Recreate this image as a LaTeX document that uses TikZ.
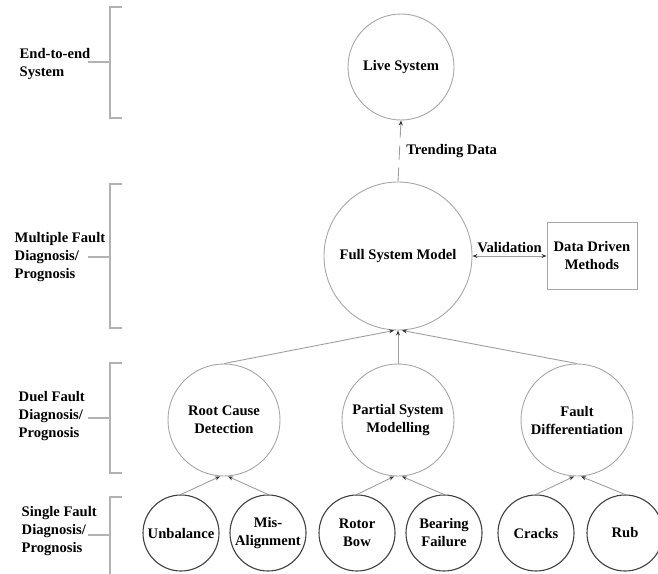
\documentclass[tikz,border=0pt]{standalone}
\usepackage{fontspec}
\setmainfont{Liberation Serif}
\usetikzlibrary{arrows.meta}
\begin{document}
\begin{tikzpicture}[x=1pt, y=-1pt, thick,
    font=\fontsize{14.6}{18}\selectfont\bfseries,
    main/.style = {draw=gray!70, circle, line width=0.9pt, inner sep=0pt, align=center},
    leaf/.style = {draw=black!75, circle, line width=1.1pt, inner sep=0pt, minimum size=76pt, align=center},
    conn/.style = {draw=gray!75, line width=0.9pt, -{Stealth[length=5pt, width=4pt, black!80]}},
    brace/.style = {draw=gray!60, line width=1.1pt},
    level/.style = {anchor=west, align=left}]
        \useasboundingbox (0,0) rectangle (658,573);

        % Nodes
        \node[main, minimum size=106pt] (live)    at (401,67)  {Live System};
        \node[main, minimum size=148pt] (full)    at (398,256) {Full System Model};
        \node[draw=gray!70, line width=0.9pt, minimum width=90pt, minimum height=67pt, align=center]
                                        (data)    at (592,256) {Data Driven\\Methods};
        \node[main, minimum size=112pt] (root)    at (224,420) {Root Cause\\Detection};
        \node[main, minimum size=112pt] (partial) at (398,420) {Partial System\\Modelling};
        \node[main, minimum size=112pt] (fault)   at (577,420) {Fault\\Differentiation};
        \node[leaf] (unb)     at (181,533) {Unbalance};
        \node[leaf] (mis)     at (268,533) {Mis-\\Alignment};
        \node[leaf] (rotor)   at (357,533) {Rotor\\Bow};
        \node[leaf] (bearing) at (444,533) {Bearing\\Failure};
        \node[leaf] (cracks)  at (536,533) {Cracks};
        \node[leaf] (rub)     at (625,533) {Rub};

        % Levels
        \node[level] (l1) at (16,64)  {End-to-end\\System};
        \node[level] (l2) at (11,257) {Multiple Fault\\Diagnosis/\\Prognosis};
        \node[level] (l3) at (15,416) {Duel Fault\\Diagnosis/\\Prognosis};
        \node[level] (l4) at (18,531) {Single Fault\\Diagnosis/\\Prognosis};
        \draw[brace] (122,7) -- (110,7) -- (110,118) -- (122,118) (110,62) -- (88,62);
        \draw[brace] (122,184) -- (110,184) -- (110,328) -- (122,328) (110,257) -- (88,257);
        \draw[brace] (122,363) -- (110,363) -- (110,473) -- (122,473) (110,418) -- (88,418);
        \draw[brace] (122,497) -- (110,497) -- (110,575) (110,535) -- (88,535);

        % Connections
        \draw[conn] (unb.north)     -- ([xshift=-4pt]root.south);
        \draw[conn] (mis.north)     -- ([xshift=4pt]root.south);
        \draw[conn] (rotor.north)   -- ([xshift=-4pt]partial.south);
        \draw[conn] (bearing.north) -- ([xshift=4pt]partial.south);
        \draw[conn] (cracks.north)  -- ([xshift=-3pt]fault.south);
        \draw[conn] (rub.north)     -- ([xshift=4pt]fault.south);
        \draw[conn] (root.north)    -- ([xshift=-4pt]full.south);
        \draw[conn] (partial.north) -- (full.south);
        \draw[conn] (fault.north)   -- ([xshift=4pt]full.south);
        \draw[conn, dash pattern=on 14pt off 8pt] (full.north) -- (live.south)
            node[midway, right, xshift=3pt, text=black] {Trending Data};
        \draw[conn, {Stealth[length=5pt, width=4pt, black!80]}-{Stealth[length=5pt, width=4pt, black!80]}]
            (full.east) -- (data.west) node[midway, above, text=black] {Validation};
      \end{tikzpicture}
\end{document}
